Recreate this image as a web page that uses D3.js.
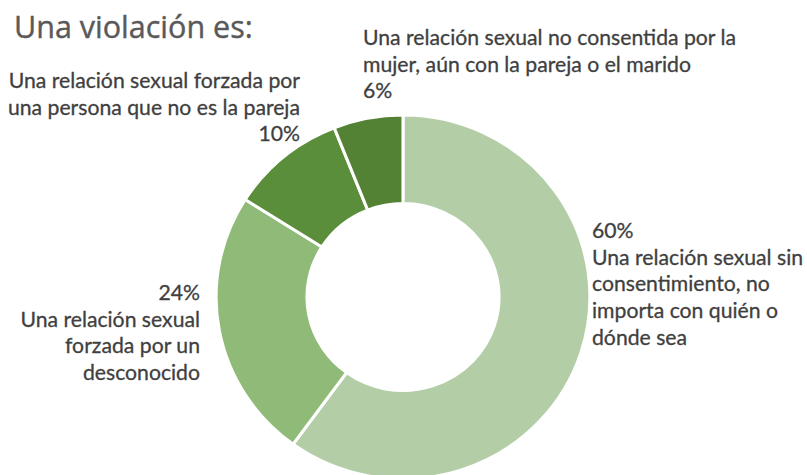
<!DOCTYPE html>
<html>
<head>
<meta charset="utf-8">
<script src="https://cdn.jsdelivr.net/npm/d3@7"></script>
<style>
  html, body { margin: 0; padding: 0; background: #ffffff; }
  svg { display: block; }
  text { font-family: Lato, "Open Sans", sans-serif; }
</style>
</head>
<body>
<svg id="chart" width="807" height="475"></svg>
<script>
// Survey answers: "Una violación es:"
const categories = [
  "Una relación sexual sin consentimiento, no importa con quién o dónde sea",
  "Una relación sexual forzada por un desconocido",
  "Una relación sexual forzada por una persona que no es la pareja",
  "Una relación sexual no consentida por la mujer, aún con la pareja o el marido"
];
const values = [60, 24, 10, 6];
const colors = ["#b3cea7", "#8fba77", "#5b8e3b", "#548235"];

// Label lines as they are broken in the chart
const labelLines = [
  ["60%", "Una relación sexual sin", "consentimiento, no", "importa con quién o", "dónde sea"],
  ["24%", "Una relación sexual", "forzada por un", "desconocido"],
  ["Una relación sexual forzada por", "una persona que no es la pareja", "10%"],
  ["Una relación sexual no consentida por la", "mujer, aún con la pareja o el marido", "6%"]
];

const svg = d3.select("#chart");

// Title
svg.append("text")
  .attr("x", 14).attr("y", 38)
  .attr("fill", "#595959")
  .attr("stroke", "#595959")
  .attr("stroke-width", 0.4)
  .style("font-family", "'Open Sans', sans-serif")
  .attr("font-size", 30.5)
  .text("Una violación es:");

// Donut
const cx = 403, cy = 297, outerR = 182, innerR = 93.5;
const pie = d3.pie().sort(null).value(d => d.value);
const arc = d3.arc().innerRadius(innerR).outerRadius(outerR);
const data = categories.map((c, i) => ({ category: c, value: values[i], color: colors[i], lines: labelLines[i] }));
const arcs = pie(data);

const g = svg.append("g").attr("transform", `translate(${cx},${cy}) scale(1.027,1)`);
g.selectAll("path")
  .data(arcs)
  .join("path")
  .attr("d", arc)
  .attr("fill", d => d.data.color)
  .attr("stroke", "#ffffff")
  .attr("stroke-width", 3)
  .attr("stroke-linejoin", "round");

// Data labels: anchor x, first baseline, alignment
const labelPos = [
  { x: 592, y: 238, anchor: "start" },
  { x: 200, y: 300, anchor: "end" },
  { x: 300, y: 88, anchor: "end" },
  { x: 363, y: 45, anchor: "start" }
];
const lineH = 26.7;

const labels = svg.append("g");
arcs.forEach((a, i) => {
  const p = labelPos[i];
  const t = labels.append("text")
    .attr("x", p.x).attr("y", p.y)
    .attr("text-anchor", p.anchor)
    .attr("fill", "#3f3f3f")
    .attr("stroke", "#3f3f3f")
    .attr("stroke-width", 0.3)
    .attr("font-size", 21.2);
  a.data.lines.forEach((ln, j) => {
    t.append("tspan").attr("x", p.x).attr("y", p.y + j * lineH).text(ln);
  });
});
</script>
</body>
</html>
